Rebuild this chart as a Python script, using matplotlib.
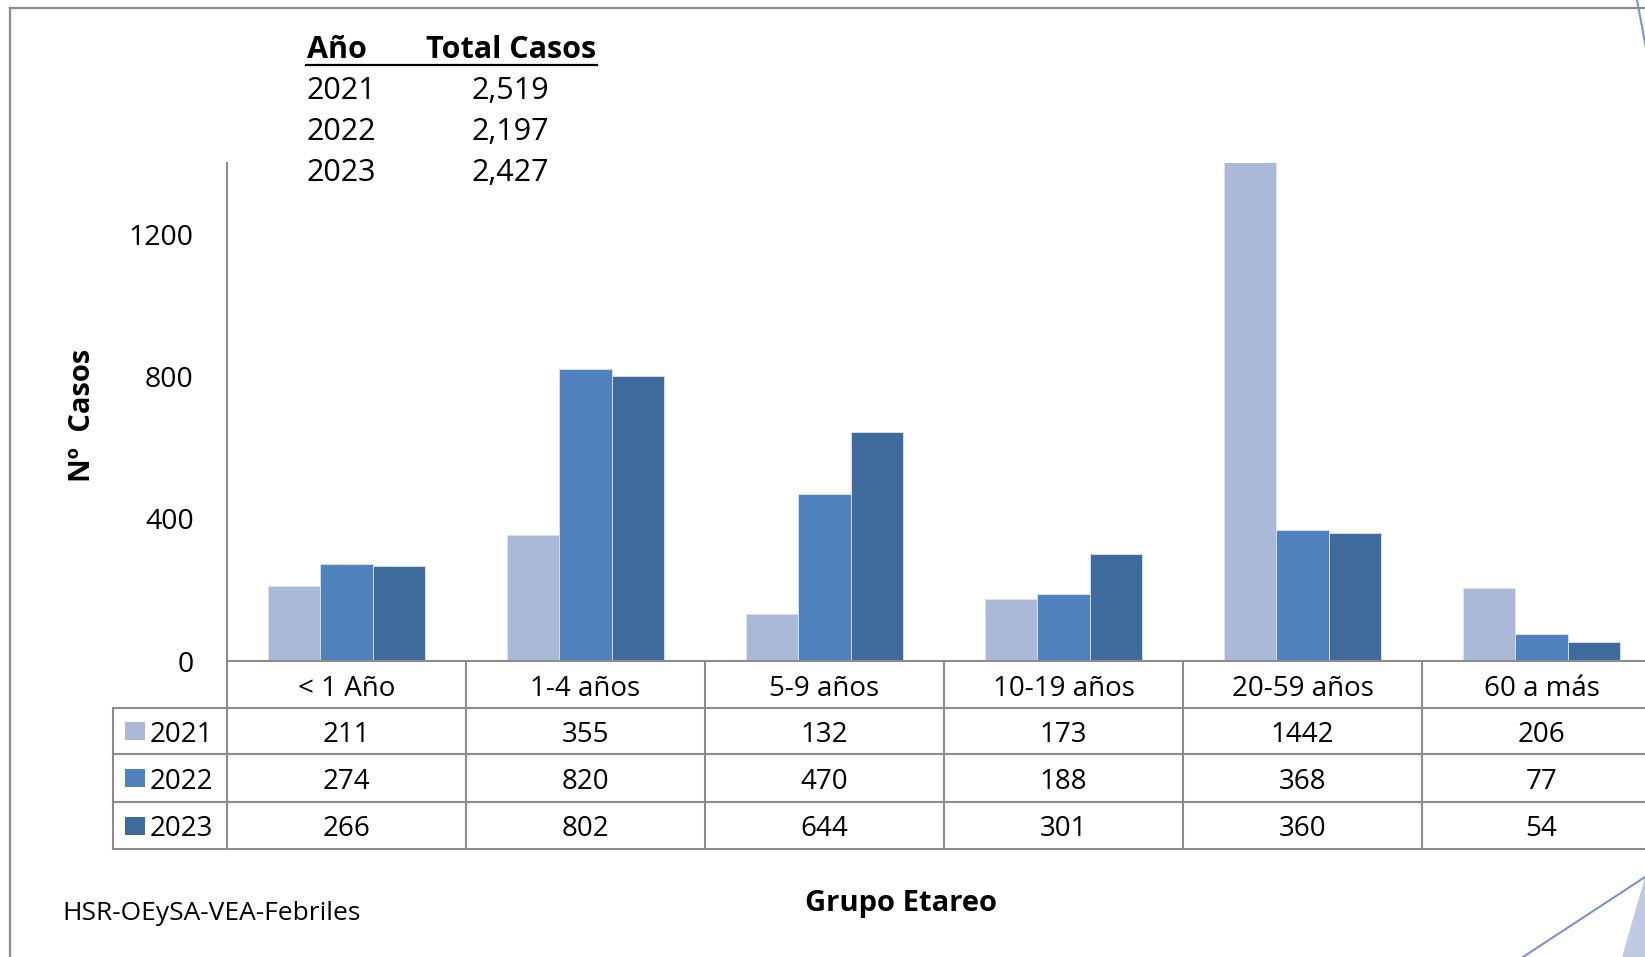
import matplotlib
matplotlib.use("Agg")
import matplotlib.pyplot as plt
from matplotlib.lines import Line2D
from matplotlib.patches import Polygon, Rectangle
from matplotlib.transforms import blended_transform_factory

# ---------------- data ----------------
categories = ["< 1 Año", "1-4 años", "5-9 años", "10-19 años", "20-59 años", "60 a más"]
years = ["2021", "2022", "2023"]
values_2021 = [211, 355, 132, 173, 1442, 206]
values_2022 = [274, 820, 470, 188, 368, 77]
values_2023 = [266, 802, 644, 301, 360, 54]
totals = ["2,519", "2,197", "2,427"]
yticks = [0, 400, 800, 1200]
colors = ["#AAB9D7", "#4F81BD", "#3F6A9C"]

series = [values_2021, values_2022, values_2023]

W, H = 1645, 957
plt.rcParams['font.family'] = ['Open Sans', 'DejaVu Sans']
fig = plt.figure(figsize=(W / 100, H / 100), dpi=100)
fig.patch.set_facecolor("white")

def fx(px):
    return px / W

def fy(px):
    return 1 - px / H

GRAY = "#8C8C8C"

# main axes (extends slightly past right edge, as in reference)
ax = fig.add_axes([fx(227), fy(661), fx(1661) - fx(227), (661 - 163) / H])
ax.set_xlim(-0.5, len(categories) - 0.5)
ax.set_ylim(0, 1400)
bw = 0.219
for i, (vals, c) in enumerate(zip(series, colors)):
    xs = [k + (i - 1) * bw for k in range(len(categories))]
    ax.bar(xs, vals, width=bw, color=c, edgecolor="#DCE3F0", linewidth=0.6, zorder=2)

for s in ["top", "right"]:
    ax.spines[s].set_visible(False)
for s in ["left", "bottom"]:
    ax.spines[s].set_color(GRAY)
    ax.spines[s].set_linewidth(1.5)
ax.set_xticks([])
ax.set_yticks(yticks)
ax.set_yticklabels([str(t) for t in yticks], fontsize=20.5)
ax.tick_params(axis="y", length=0, pad=24)
ax.set_facecolor("none")

# ---------------- data table below axis ----------------
trans = blended_transform_factory(ax.transData, fig.transFigure)
row_lines = [708, 754, 802, 849]
n = len(categories)
for k in range(n + 1):
    fig.add_artist(Line2D([k - 0.5, k - 0.5], [fy(661), fy(849)], transform=trans,
                          color=GRAY, lw=1.5, clip_on=False))
for yl in row_lines:
    fig.add_artist(Line2D([-0.5, n - 0.5], [fy(yl), fy(yl)], transform=trans,
                          color=GRAY, lw=1.5, clip_on=False))
for yl in row_lines:
    fig.add_artist(Line2D([fx(113), fx(227)], [fy(yl), fy(yl)], transform=fig.transFigure,
                          color=GRAY, lw=1.5))
fig.add_artist(Line2D([fx(113), fx(113)], [fy(708), fy(849)], transform=fig.transFigure,
                      color=GRAY, lw=1.5))

TXT_DY = 4  # Open Sans sits a little high with va="center"
cat_y = (661 + 708) / 2 + TXT_DY
for k, cat in enumerate(categories):
    fig.text(k, fy(cat_y), cat, transform=trans, ha="center", va="center", fontsize=20)

row_centers = [(row_lines[j] + row_lines[j + 1]) / 2 for j in range(3)]
for j, (vals, yr, c) in enumerate(zip(series, years, colors)):
    yc = row_centers[j]
    for k, v in enumerate(vals):
        fig.text(k, fy(yc + TXT_DY), str(v), transform=trans, ha="center", va="center",
                 fontsize=20)
    fig.add_artist(Rectangle((fx(125), fy(yc + 9)), fx(20), 18 / H,
                             transform=fig.transFigure, facecolor=c, edgecolor="none"))
    fig.text(fx(150), fy(yc + TXT_DY), yr, ha="left", va="center", fontsize=20)

# ---------------- axis titles ----------------
fig.text(fx(82), fy(415), "Nº  Casos", rotation=90, ha="center", va="center",
         fontsize=21, fontweight="bold")
fig.text(fx(901), fy(903), "Grupo Etareo", ha="center", va="center",
         fontsize=21, fontweight="bold")
fig.text(fx(62), fy(913), "HSR-OEySA-VEA-Febriles", ha="left", va="center", fontsize=19)

# ---------------- totals table (top-left) ----------------
fig.text(fx(307), fy(50), "Año", ha="left", va="center", fontsize=22, fontweight="bold")
fig.text(fx(596), fy(50), "Total Casos", ha="right", va="center", fontsize=22, fontweight="bold")
fig.add_artist(Line2D([fx(306), fx(597)], [fy(65), fy(65)], transform=fig.transFigure,
                      color="black", lw=1.6))
for yr, tot, yc in zip(years, totals, [91, 132, 173]):
    fig.text(fx(307), fy(yc), yr, ha="left", va="center", fontsize=22)
    fig.text(fx(549), fy(yc), tot, ha="right", va="center", fontsize=22)

# ---------------- frame & decorations ----------------
fig.add_artist(Line2D([fx(10), fx(1645)], [fy(8), fy(8)], transform=fig.transFigure,
                      color=GRAY, lw=1.6))
fig.add_artist(Line2D([fx(10), fx(10)], [fy(8), fy(957)], transform=fig.transFigure,
                      color=GRAY, lw=1.6))
fig.add_artist(Line2D([fx(1637), fx(1646)], [fy(0), fy(48)], transform=fig.transFigure,
                      color="#7A93CF", lw=1.5))
fig.add_artist(Polygon([(fx(1622), fy(957)), (fx(1645), fy(877)), (fx(1645), fy(957))],
                       closed=True, transform=fig.transFigure, facecolor="#C0CAE2",
                       edgecolor="none"))
fig.add_artist(Line2D([fx(1523), fx(1645)], [fy(957), fy(877)], transform=fig.transFigure,
                      color="#7A93CF", lw=1.5))

fig.savefig("out.png", dpi=100)
